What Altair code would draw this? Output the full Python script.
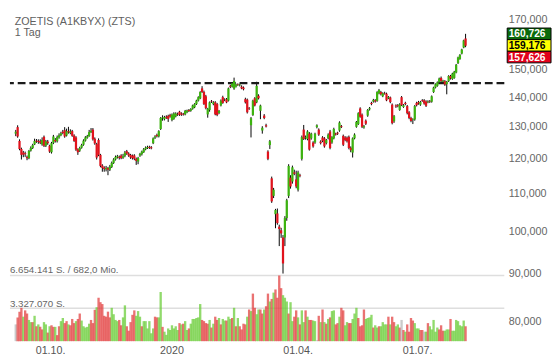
import altair as alt
import pandas as pd

# ---------------- data ----------------
opens = [
127.8,129.9,125.5,123.0,121.9,121.7,120.6,120.2,122.5,123.3,
124.4,125.6,125.5,125.4,124.4,126.8,124.0,125.3,124.0,122.0,
124.9,125.8,125.4,126.6,127.3,128.4,128.9,127.2,128.6,128.0,
128.6,127.2,126.6,122.9,122.5,123.4,124.3,125.6,126.5,127.0,
128.3,129.1,126.2,124.5,125.8,121.2,118.0,117.4,116.9,117.3,
116.8,117.6,118.8,119.8,120.5,120.6,121.0,120.3,120.9,122.3,
121.6,121.2,121.0,121.0,120.0,119.2,121.0,121.4,122.0,122.9,
123.3,123.6,123.5,124.8,126.5,127.4,126.9,129.3,132.8,132.5,
133.3,133.6,133.9,132.2,132.6,133.4,134.2,135.0,134.4,134.3,
134.1,134.8,135.6,135.3,136.0,136.5,137.6,138.8,139.6,143.1,
141.8,140.3,134.1,135.6,138.7,137.6,138.2,137.6,134.6,137.1,
140.0,139.0,139.3,138.8,144.0,143.7,143.0,143.7,144.5,144.2,
143.7,143.4,139.3,139.1,136.2,130.5,133.9,139.6,138.2,140.5,
135.3,128.8,133.7,130.5,122.2,124.2,114.3,109.4,104.5,104.7,
101.3,100.4,98.6,98.6,103.5,109.4,114.5,113.4,116.0,114.0,
111.1,115.2,120.0,129.1,126.4,126.1,127.8,126.3,125.0,125.0,
129.9,129.1,125.3,126.6,126.3,124.8,126.3,128.5,125.0,126.3,
127.8,128.1,128.8,130.2,127.1,126.6,126.5,126.8,123.4,121.9,
126.3,130.0,130.9,136.1,134.0,129.8,132.0,133.7,135.8,138.0,
138.5,138.9,138.7,141.3,141.8,140.3,141.4,141.2,139.6,139.9,
137.4,131.8,137.1,137.2,135.6,140.0,136.6,138.0,136.9,134.8,
132.9,132.2,132.4,138.0,138.3,137.4,138.9,138.9,138.5,138.2,
138.6,138.4,141.8,143.4,144.0,145.3,146.9,145.5,145.7,144.6,
145.7,147.6,146.5,146.9,148.9,152.4,154.0,156.1,158.5,162.1]

highs = [
129.0,130.5,126.0,123.4,122.4,122.2,121.0,122.7,123.8,124.6,
126.2,126.1,126.0,126.0,126.6,127.2,125.8,125.8,124.3,125.2,
127.4,126.4,127.2,127.9,128.4,129.0,129.9,129.4,130.0,129.2,
129.0,127.6,127.0,123.2,123.7,124.6,126.0,127.0,127.4,129.0,
129.6,129.6,126.6,124.9,126.3,121.5,118.4,117.8,117.9,117.6,
118.2,119.2,120.2,121.0,121.2,121.0,121.4,121.5,122.4,122.7,
122.0,121.5,121.3,121.4,120.4,120.6,121.8,122.5,123.3,123.8,
124.0,124.0,123.9,126.6,127.3,127.8,128.9,133.2,133.8,133.6,
133.8,134.0,134.3,134.4,134.8,134.8,134.7,135.3,134.8,134.6,
135.6,135.7,135.9,136.2,137.4,137.9,139.1,140.3,142.1,143.9,
142.3,140.8,136.3,138.5,139.0,138.6,138.6,138.0,135.6,139.2,
140.5,139.6,139.7,143.4,144.4,145.2,147.0,144.8,144.9,144.8,
144.2,143.8,139.8,139.5,136.6,133.2,139.1,140.0,145.5,141.0,
137.4,130.2,134.2,131.0,122.6,125.8,114.8,111.6,105.9,106.0,
101.8,101.0,99.2,104.0,108.6,118.4,115.2,118.0,116.8,116.5,
116.5,115.6,127.2,130.6,127.2,128.9,128.3,128.1,125.4,128.1,
130.8,129.5,125.7,127.0,126.7,126.1,127.9,129.0,127.0,129.7,
128.1,128.4,131.8,130.6,127.5,127.0,126.9,127.2,123.8,126.6,
127.9,131.9,134.8,136.5,134.4,130.6,132.4,135.9,136.6,138.4,
139.4,139.3,142.1,142.9,142.2,141.7,141.9,141.6,140.4,140.2,
137.8,133.9,137.5,137.6,137.9,140.4,137.6,138.4,137.3,135.2,
133.3,132.8,137.3,138.4,138.7,138.7,139.3,139.3,138.9,138.9,
139.0,140.6,143.7,144.9,145.6,147.0,147.4,146.2,146.1,145.8,
147.9,148.0,148.8,149.5,152.1,154.9,155.9,158.0,161.6,164.0]

lows = [
127.0,126.5,122.6,119.8,120.5,120.6,119.6,119.9,122.2,123.0,
124.2,124.9,124.6,124.5,124.0,123.6,123.6,124.3,121.8,121.6,
124.5,125.0,125.0,126.2,127.0,127.6,126.5,126.9,127.8,127.6,
126.8,125.2,122.4,121.2,122.1,123.1,124.0,125.3,126.2,126.8,
128.0,125.6,124.3,119.8,120.8,117.5,116.2,116.2,116.3,115.2,
116.4,117.3,118.5,119.5,120.1,119.8,119.9,120.0,120.5,121.2,
120.6,120.0,119.8,119.6,118.2,118.4,120.6,121.0,121.8,122.6,
123.0,123.0,122.9,124.5,126.1,126.6,126.6,129.0,132.0,132.1,
132.6,131.6,133.0,131.8,132.3,133.1,133.6,133.6,133.6,133.7,
133.8,134.5,134.9,135.0,135.7,136.2,137.3,138.5,139.3,141.5,
137.3,135.8,133.0,135.0,138.0,137.2,133.8,133.5,134.2,136.8,
137.7,138.6,137.9,138.5,143.2,143.4,142.6,143.4,144.0,143.8,
142.8,142.4,137.8,134.4,135.6,126.6,133.6,136.8,137.9,139.2,
132.5,127.8,132.5,129.8,119.6,123.0,107.5,108.8,100.9,101.8,
96.5,98.5,90.1,96.5,102.8,108.8,111.4,112.8,115.2,111.5,
110.6,114.6,119.5,125.8,125.9,125.7,122.5,125.9,123.4,124.6,
129.5,127.1,124.4,125.1,123.4,124.4,126.0,122.9,124.6,126.0,
127.2,127.4,128.4,129.6,123.9,125.4,125.0,122.9,122.0,120.4,
126.0,129.7,130.6,133.0,129.6,129.4,130.6,133.3,135.4,137.2,
138.1,138.1,138.4,141.0,140.6,140.0,140.9,138.6,139.3,137.9,
130.8,131.3,136.3,136.5,135.3,136.9,136.3,137.2,134.1,132.5,
131.5,130.9,132.0,136.8,137.4,137.0,138.4,137.4,136.6,137.9,
138.0,138.1,141.5,143.1,143.7,145.0,145.4,145.0,144.0,141.0,
145.4,146.3,146.2,146.6,148.6,152.1,153.7,155.8,158.2,158.6]

closes = [
128.4,126.9,123.0,121.2,121.3,121.4,120.2,122.4,123.3,124.2,
125.5,125.3,125.2,124.9,125.8,124.0,125.4,124.8,122.2,124.8,
126.9,125.4,126.7,127.3,127.9,128.0,126.9,128.6,128.2,128.5,
127.1,125.5,122.8,122.0,123.3,124.2,125.6,126.6,127.0,128.3,
128.7,126.0,124.7,120.4,121.2,117.9,117.3,117.0,117.3,116.8,
117.7,118.8,119.8,120.6,120.8,120.3,120.2,120.8,121.9,121.6,
121.0,120.4,120.2,120.0,119.4,120.3,121.5,122.2,122.9,123.4,
123.6,123.3,123.2,126.3,126.9,127.0,128.6,132.9,133.1,133.2,
133.0,132.6,133.4,134.0,134.4,134.4,134.0,134.0,134.0,134.1,
135.3,135.4,135.2,135.9,137.1,137.6,138.8,140.0,141.8,141.8,
137.6,136.2,136.0,138.2,138.5,138.2,134.1,133.9,135.3,138.8,
138.0,139.1,138.2,143.1,143.7,144.9,145.8,144.5,144.3,144.5,
143.1,142.8,138.2,134.8,136.0,132.8,138.8,137.1,144.0,139.6,
137.1,129.7,132.9,130.1,120.0,125.4,107.9,111.1,105.6,102.2,
100.7,99.6,92.4,103.5,108.2,117.9,112.0,117.5,115.6,112.0,
116.0,115.0,126.7,126.1,126.6,128.5,122.8,127.8,123.8,127.8,
130.5,127.5,124.8,125.5,123.8,125.8,127.5,123.3,126.7,129.3,
127.5,127.8,131.4,129.9,124.3,125.8,125.4,123.3,122.6,126.3,
127.5,131.6,134.5,133.3,130.0,130.2,131.0,135.6,136.2,137.6,
139.0,138.5,141.8,142.5,141.0,141.4,141.2,138.9,140.0,138.3,
131.2,133.5,136.8,136.9,137.5,137.2,137.2,137.6,134.5,132.9,
131.9,132.4,136.9,137.2,137.8,138.3,138.6,137.8,137.0,138.5,
138.4,140.3,143.4,144.6,145.3,146.7,145.7,145.9,144.5,145.5,
147.6,146.7,148.5,149.2,151.8,154.6,155.6,157.7,161.3,159.2]

# volume in million shares
vol_mio = [
1.70,2.41,2.99,3.38,2.48,3.12,2.80,2.15,1.93,1.93,
2.57,1.51,1.70,1.45,1.19,1.93,1.70,0.87,1.51,1.61,
1.45,1.45,0.61,1.51,2.03,2.35,1.83,2.03,1.70,1.61,
2.25,1.83,2.03,2.25,2.80,2.09,1.51,1.38,1.45,1.77,
2.15,1.83,3.18,3.44,4.40,3.95,3.76,2.57,2.48,2.99,
2.41,3.38,2.73,2.15,2.03,2.15,1.61,2.41,3.63,1.51,
1.06,1.93,2.67,3.12,2.57,3.05,2.48,1.51,2.03,2.03,
1.29,2.03,0.80,1.29,2.48,2.41,2.41,4.98,1.45,0.96,
0.64,1.29,1.13,1.61,1.29,1.51,1.13,1.83,1.70,1.77,
2.03,1.13,1.29,1.77,2.25,2.25,2.35,2.41,3.76,2.15,
2.03,1.83,1.77,2.15,1.38,1.77,2.48,2.15,2.35,1.70,
2.25,2.09,2.09,2.48,2.25,2.35,3.38,1.51,2.35,1.51,
1.19,1.77,1.70,2.48,3.21,3.05,4.82,3.38,2.73,3.21,
3.21,2.80,3.21,3.54,4.82,4.02,4.28,4.92,5.24,4.40,
6.654141,5.37,4.66,4.40,4.02,2.80,3.95,2.03,2.48,3.12,
2.41,1.70,3.12,1.93,3.12,2.48,2.15,2.15,2.09,2.03,
0.10,2.57,1.93,3.21,1.93,1.77,2.25,2.41,3.05,3.12,
1.70,1.83,2.48,3.38,3.12,1.61,1.93,1.83,1.83,2.25,
2.80,3.38,2.35,1.51,1.61,3.21,2.25,2.35,2.41,2.67,
1.38,1.61,1.38,1.51,1.51,1.93,1.70,1.70,2.48,1.70,
2.48,1.93,1.51,1.70,1.38,2.15,1.13,0.96,1.70,0.96,
2.35,2.09,1.83,1.29,1.29,1.13,1.13,0.96,0.96,1.83,
1.51,1.19,2.15,0.96,1.38,1.19,1.61,1.06,1.06,1.19,
1.19,2.25,1.06,1.06,2.15,2.03,1.61,1.51,2.09,1.51]

# r = down day, g = up day, n = unchanged
vol_dir = list(
    "nrrrgrrggr" "grgrrggrgr" "rgrrggrrgr" "rrgrrggggg"
    "rrrgrrrrrr" "rggggrrggr" "rrrrgggrgg" "ggggrrggrg"
    "gggggggrgr" "ggrggggggr" "rrrgrgrrgr" "ggrggrgrgr"
    "rrrgrgrrgg" "rrgrrgrgrr" "rrgggrggrr" "grggrgrrgg"
    "nrgrgrgrgg" "rrgrrggrrg" "ggrrrrgggg" "rggrggggrg"
    "rrggrnrgrr" "rrgggrrngr" "gggggrrrgg" "grgggggggr")

tick_idx = [18.5, 83, 150, 213.5]
tick_lbl = ["01.10.", "2020", "01.04.", "01.07."]
# 160,000 sits behind the quote boxes in the reference, so it is not listed
y_ticks = [80, 90, 100, 110, 120, 130, 140, 150, 170]
resistance = [145.0]
vol_ref = [6.654141, 3.327070]
vol_ref_lbl = ["6.654.141 S. / 682,0 Mio.", "3.327.070 S."]
quotes = ["160,726", "159,176", "157,626"]
title_lines = ["ZOETIS (A1KBYX) (ZTS)", "1 Tag"]

# ---------------- geometry / styles ----------------
W, H = 508, 352
REF_W, REF_H = 515.0, 359.9
sx, sy = W / REF_W, H / REF_H
FONT = "Liberation Sans"
UP, DOWN = "#3cb30f", "#e1121c"
VCOL = {"r": "#e23c3c", "g": "#66cc33", "n": "#b5b5b5"}

cdf = pd.DataFrame({"i": range(len(opens)), "o": opens, "h": highs,
                    "l": lows, "c": closes})
cdf["col"] = [UP if c >= o else DOWN for o, c in zip(opens, closes)]
vdf = pd.DataFrame({"i": range(len(vol_mio)), "v": vol_mio,
                    "col": [VCOL[d] for d in vol_dir]})

x_scale = alt.Scale(domain=[-0.5, 257.0], nice=False, zero=False)
p_scale = alt.Scale(type="log", domain=[73.1, 172.03], nice=False, zero=False)
v_scale = alt.Scale(domain=[-1.63, 33.08], nice=False, zero=False)

p_axis = alt.Axis(orient="right", values=y_ticks, ticks=False, domain=False,
                  grid=False, title=None, labelFont=FONT, labelFontSize=11,
                  labelColor="#666666", labelPadding=4,
                  labelExpr="replace(format(datum.value, '.3f'), '.', ',')")

X = alt.X("i:Q", scale=x_scale, axis=None)

wick = alt.Chart(cdf).mark_rule(color="#000000", strokeWidth=1).encode(
    x=X, y=alt.Y("l:Q", scale=p_scale, axis=p_axis), y2="h:Q")
dash = alt.Chart(pd.DataFrame({"lvl": resistance})).mark_rule(
    strokeDash=[8, 4], strokeWidth=2.2, color="#1a1a1a").encode(
    y=alt.Y("lvl:Q", scale=p_scale, axis=p_axis))
body = alt.Chart(cdf).mark_bar(width=2.3).encode(
    x=X, y=alt.Y("o:Q", scale=p_scale, axis=p_axis), y2="c:Q",
    color=alt.Color("col:N", scale=None))
dates = alt.Chart(pd.DataFrame({"idx": tick_idx, "lbl": tick_lbl})).mark_text(
    font=FONT, fontSize=11, color="#555555", align="center",
    baseline="alphabetic").encode(
    x=alt.X("idx:Q", scale=x_scale, axis=None), y=alt.value(357 * sy),
    text="lbl:N")
price = alt.layer(wick, dash, body, dates)

vgrid = alt.Chart(pd.DataFrame({"v": vol_ref})).mark_rule(
    color="#dedede", strokeWidth=1.6).encode(
    y=alt.Y("v:Q", scale=v_scale, axis=None))
vbars = alt.Chart(vdf).mark_bar(width=2.4, opacity=0.72).encode(
    x=X, y=alt.Y("v:Q", scale=v_scale, axis=None), y2=alt.datum(0),
    color=alt.Color("col:N", scale=None))
vol = alt.layer(vgrid, vbars)


def note(txt, x, y, size=11, color="#555555", weight="normal"):
    return alt.Chart(pd.DataFrame({"t": [txt]})).mark_text(
        font=FONT, fontSize=size, color=color, fontWeight=weight,
        align="left", baseline="alphabetic").encode(
        text="t:N", x=alt.value(x), y=alt.value(y))


notes = [
    note(title_lines[0], 5 * sx, 11 * sy, 11, "#606060"),
    note(title_lines[1], 5 * sx, 22.5 * sy, 11, "#606060"),
    note(vol_ref_lbl[0], 0, 271 * sy, 10, "#666666"),
    note(vol_ref_lbl[1], 0, 307 * sy, 10, "#666666"),
]

box_bg = ["#0b6a0b", "#ffff00", "#e2001a"]
box_fg = ["#ffffff", "#000000", "#ffffff"]
box_top = [14.0, 26.2, 38.4]
box_h = 12.2
boxes = []
for txt, bg, fg, top in zip(quotes, box_bg, box_fg, box_top):
    boxes.append(alt.Chart(pd.DataFrame({"t": [txt]})).mark_rect(
        fill=bg, stroke="#000000", strokeWidth=1).encode(
        x=alt.value(518 * sx), x2=alt.value(556),
        y=alt.value(top * sy), y2=alt.value((top + box_h) * sy)))
    boxes.append(note(txt, 519.5 * sx, (top + box_h - 2.3) * sy, 10.5, fg, "bold"))

chart = alt.layer(vol, price, *notes, *boxes).resolve_scale(
    y="independent").properties(
    width=W, height=H, padding=0, background="white").configure_view(stroke=None)

chart.save("out.html", embed_options={"renderer": "svg", "actions": False})
